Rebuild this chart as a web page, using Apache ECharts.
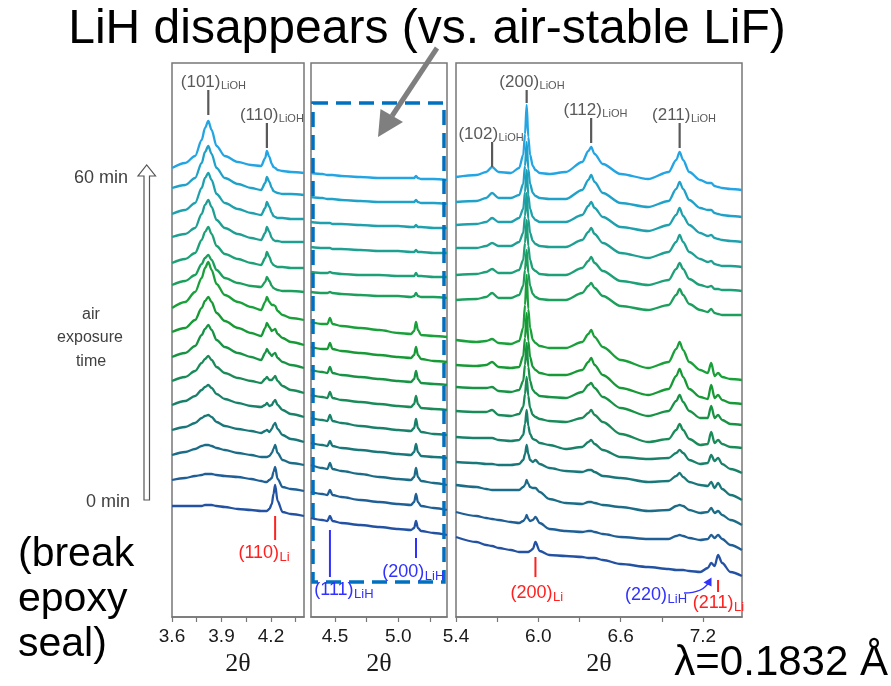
<!DOCTYPE html>
<html><head><meta charset="utf-8">
<script src="https://cdn.jsdelivr.net/npm/echarts@6/dist/echarts.min.js"></script>
<style>html,body{margin:0;padding:0;background:#fff}#c{width:891px;height:686px}</style>
</head><body><div id="c"></div>
<script>
// ---------- DATA (intensity, a.u.; curves c0 = 0 min ... c14 = 60 min) ----------
const x1 = [3.60,3.68,3.74,3.78,3.80,3.82,3.84,3.87,3.92,4.00,4.08,4.14,4.165,4.175,4.19,4.205,4.215,4.225,4.24,4.27,4.32,4.40];
const panel1 = [
 [91,91,91,91,92,92,92,91,90,88,87,86,86,86,88,93,103,112,96,85,83,81],
 [117,119,121,122,123,123,123,122,121,120,118,116,115,115,117,119,125,130,118,110,108,106],
 [142,145,148,151,152,152,151,149,147,144,142,140,140,140,141,144,148,152,144,137,134,132],
 [167,170,174,179,181,182,180,175,171,168,166,164,166,167,165,168,172,174,168,162,158,155],
 [192,196,201,207,210,212,209,203,198,194,191,190,192,194,191,192,195,197,192,187,183,180],
 [216,220,226,234,238,241,237,230,224,219,216,214,218,220,217,217,219,221,216,211,207,204],
 [240,244,251,262,268,272,267,257,250,244,240,237,244,248,244,241,243,244,239,235,232,229],
 [265,269,277,289,296,300,295,284,276,269,264,261,269,274,270,266,267,268,263,259,255,252],
 [289,295,305,319,329,335,327,313,302,295,290,287,295,300,295,292,292,291,286,282,279,277],
 [312,316,322,333,339,342,337,327,319,314,311,310,315,320,316,311,309,308,307,306,306,305],
 [334,338,344,357,365,370,363,351,343,338,334,332,339,345,340,334,332,331,330,330,329,329],
 [360,363,369,383,392,397,390,377,369,363,359,357,364,370,365,359,357,356,356,355,355,355],
 [383,387,394,409,419,424,417,403,394,388,384,382,389,395,390,384,381,380,379,379,378,378],
 [409,412,419,434,445,451,443,429,419,413,409,407,414,420,415,409,406,405,404,403,403,402],
 [429,434,441,457,469,476,467,451,441,435,432,431,439,446,440,433,430,429,427,426,425,424]
];
const x2 = [4.31,4.40,4.44,4.46,4.48,4.55,4.70,4.85,5.00,5.10,5.125,5.14,5.155,5.18,5.28,5.384];
const panel2 = [
 [79,77,76,81,76,74,72,70,68,67,69,76,69,66,64,62],
 [105,103,102,107,102,100,97,95,93,92,95,103,95,91,89,87],
 [132,129,128,134,128,126,123,120,118,117,120,129,120,116,114,112],
 [154,152,151,156,151,149,147,145,143,142,145,153,145,141,140,139],
 [179,177,176,182,176,174,171,169,167,166,169,178,169,165,163,162],
 [202,200,199,205,199,197,195,193,191,190,193,201,193,189,188,187],
 [227,225,224,230,224,222,220,218,216,215,218,226,218,214,213,212],
 [250,248,248,254,248,246,244,242,240,239,242,250,242,238,236,235],
 [275,273,273,279,273,271,269,267,264,263,266,275,267,262,261,260],
 [305,304,304,305,304,303,302,301,301,300,301,304,301,300,300,299],
 [325,324,324,325,324,323,322,322,321,321,321,324,321,321,320,320],
 [350,349,349,349,348,348,347,346,346,345,345,347,345,345,344,344],
 [375,374,374,374,373,373,372,371,371,370,370,372,370,370,369,369],
 [400,399,398,398,398,397,396,395,395,395,395,397,395,394,394,393],
 [424,423,422,422,422,421,420,419,419,419,419,421,419,418,418,417]
];
const x3 = [5.40,5.55,5.62,5.663,5.71,5.80,5.86,5.89,5.903,5.915,5.927,5.94,5.96,5.979,6.01,6.08,6.20,6.32,6.365,6.385,6.41,6.47,6.60,6.80,6.95,7.005,7.03,7.055,7.10,7.18,7.235,7.26,7.285,7.31,7.34,7.40,7.484];
const panel3 = [
 [60,55,52,51,49,47,45,45,45,45,45,46,48,55,46,42,41,40,39,39,39,37,33,30,28,27,27,27,26,25,29,34,31,42,34,25,21],
 [85,81,79,78,77,75,74,76,78,82,78,76,77,80,74,68,66,65,66,66,65,63,60,58,58,61,62,61,59,57,58,62,59,62,58,52,47],
 [112,110,108,107,107,107,107,110,112,117,113,110,109,109,105,98,94,93,95,95,94,92,90,86,87,91,92,91,87,84,85,89,84,86,82,77,72],
 [135,134,133,133,132,132,133,137,143,152,143,137,135,137,133,129,126,125,127,127,125,121,119,115,116,121,124,120,115,112,111,115,109,114,108,102,97],
 [160,159,159,159,157,156,157,162,173,187,171,163,158,157,154,152,148,150,155,157,153,147,140,138,139,144,147,144,137,133,134,142,136,139,133,128,124],
 [186,185,185,187,182,181,183,190,203,220,201,189,182,180,178,176,175,179,184,187,182,175,163,155,158,167,173,167,158,152,153,165,154,157,153,150,149],
 [210,209,209,210,206,205,207,216,232,254,230,216,207,204,201,200,199,205,212,214,209,200,189,181,186,196,202,195,186,179,179,191,179,182,177,173,172],
 [232,231,232,235,230,229,230,241,259,284,256,240,230,227,224,222,222,227,235,239,232,222,209,202,208,221,228,220,208,200,198,212,199,202,197,194,193],
 [257,255,256,258,254,253,256,269,292,322,288,269,257,254,251,249,249,255,263,267,260,250,237,229,235,248,255,247,235,227,224,234,221,224,220,218,217],
 [297,298,300,304,299,299,302,311,327,347,324,311,303,300,298,297,297,304,311,314,309,301,291,287,292,302,308,302,293,287,285,288,284,283,282,282,282],
 [322,323,325,328,324,324,327,337,354,377,351,337,328,326,323,322,322,329,336,340,334,326,316,312,317,328,334,328,318,312,310,311,308,308,307,307,306],
 [349,349,351,354,351,351,355,364,381,404,378,364,356,353,351,350,350,357,365,369,363,354,344,339,345,355,362,355,345,338,335,336,333,332,331,331,330],
 [372,373,375,379,375,375,379,388,405,427,402,388,380,377,375,375,375,382,391,395,389,380,370,366,372,382,389,381,372,364,361,362,359,358,357,356,355],
 [395,396,399,404,399,399,402,413,431,455,428,413,404,401,399,398,398,407,417,422,415,404,394,390,396,408,415,408,397,389,387,387,384,383,382,381,380],
 [420,422,425,430,425,424,429,442,463,492,460,442,431,427,424,423,425,435,446,450,443,433,423,418,425,437,445,437,425,417,414,414,411,410,409,408,407]
];
const xRanges = [[3.6,4.4],[4.3104,5.3847],[5.4,7.4845]];
const tickValues = [[3.6,3.75,3.9,4.05,4.2,4.35],[4.5,4.75,5.0,5.25],[5.4,5.7,6.0,6.3,6.6,6.9,7.2]];
const labelValues = [[3.6,3.9,4.2],[4.5,5.0],[5.4,6.0,6.6,7.2]];
// peak annotations: panel, 2theta, top, bottom (intensity), main, sub
const lioLabels = [[0,3.82,507,482,'(101)','LiOH'],[0,4.175,474,449,'(110)','LiOH'],[2,5.663,455,430,'(102)','LiOH'],[2,5.915,507,494,'(200)','LiOH'],[2,6.385,479,454,'(112)','LiOH'],[2,7.03,474,449,'(211)','LiOH']];
const liLabels = [[0,4.225,81,57,'(110)','Li'],[2,5.979,40,20,'(200)','Li'],[2,7.31,17,5,'(211)','Li']];
const lihLabels = [[1,4.46,67,20,'(111)','LiH'],[1,5.14,59,39,'(200)','LiH']];

// ---------- STYLE ----------
const colors = ['#2352a3','#1f5f96','#1c6c88','#1a7779','#19816a','#198a58','#189346','#179a36','#19a03a','#1c9f5c','#1d9f78','#1e9f92','#1fa0ad','#20a1c8','#23a4e3'];
const FONT = '"Liberation Sans", Arial, sans-serif';
const grids = [{left:172,width:132},{left:311,width:136},{left:456,width:286}];

const chart = echarts.init(document.getElementById('c'), null, {renderer:'canvas', width:891, height:686});
const series = [];
[[x1,panel1],[x2,panel2],[x3,panel3]].forEach(([xs,curves],p)=>{
  curves.forEach((vals,i)=>{
    series.push({type:'line', xAxisIndex:p, yAxisIndex:p, data: xs.map((x,k)=>[x,vals[k]]),
      showSymbol:false, symbol:'none', smooth:0.3, smoothMonotone:'x', silent:true,
      lineStyle:{color:colors[i], width:2.3}});
  });
});
chart.setOption({
  animation:false, backgroundColor:'#fff',
  grid: grids.map(g=>({left:g.left,width:g.width,top:63,height:554,show:true,borderColor:'#777',borderWidth:1.5})),
  xAxis: [0,1,2].map(i=>({type:'value', gridIndex:i, min:xRanges[i][0], max:xRanges[i][1],
    name:'2θ', nameLocation:'middle', nameGap:33,
    nameTextStyle:{fontSize:26, fontFamily:'"Liberation Serif", "DejaVu Serif", serif', color:'#1a1a1a'},
    axisLine:{show:true, onZero:false, lineStyle:{color:'#777', width:1.5}},
    axisTick:{show:true, customValues:tickValues[i], length:5, lineStyle:{color:'#777', width:1.2}},
    axisLabel:{customValues:labelValues[i], formatter:v=>v.toFixed(1), fontSize:19, color:'#1a1a1a', fontFamily:FONT, margin:10},
    splitLine:{show:false}})),
  yAxis: [0,1,2].map(i=>({type:'value', gridIndex:i, min:-20, max:534, show:false})),
  series
});

// ---------- ANNOTATIONS ----------
const ctx = document.createElement('canvas').getContext('2d');
function tw(s,size){ ctx.font = size+'px "Liberation Sans"'; return ctx.measureText(s).width; }
const G = [];
function txt(s,x,y,size,fill,align,extra){ G.push(Object.assign({type:'text', z:100, style:{text:s,x,y,fill,fontSize:size,fontFamily:FONT,align:align||'left',verticalAlign:'middle'}},extra||{})); }
function label(main,sub,left,cy,ms,ss,fill){ txt(main,left,cy,ms,fill); txt(sub,left+tw(main,ms)+0.5,cy+4,ss,fill); }
function vline(x,y1,y2,stroke,w){ G.push({type:'line',z:100,shape:{x1:x,y1:y1,x2:x,y2:y2},style:{stroke,lineWidth:w}}); }
function P(p,x,y){ return chart.convertToPixel({gridIndex:p},[x,y]); }

const lioDx = [-27.5,-27,-33.7,-27.3,-27.7,-27.6];
lioLabels.forEach((a,k)=>{ const t=P(a[0],a[1],a[2]), b=P(a[0],a[1],a[3]);
  vline(t[0],t[1],b[1],'#595959',2.2); label(a[4],a[5],t[0]+lioDx[k],t[1]-8,17,11,'#595959'); });
const liOff = [[-36.7,13],[-25,16],[-25.3,11]];
liLabels.forEach((a,k)=>{ const t=P(a[0],a[1],a[2]), b=P(a[0],a[1],a[3]);
  vline(t[0],t[1],b[1],'#ff2020',2); label(a[4],a[5],t[0]+liOff[k][0],b[1]+liOff[k][1],18,13,'#ff2020'); });
const lihOff = [[-15.7,13],[-33.7,14]];
lihLabels.forEach((a,k)=>{ const t=P(a[0],a[1],a[2]), b=P(a[0],a[1],a[3]);
  vline(t[0],t[1],b[1],'#3030ff',2); label(a[4],a[5],t[0]+lihOff[k][0],b[1]+lihOff[k][1],18,13,'#3030ff'); });
// (220)LiH with curved arrow
label('(220)','LiH',625,595,18,13,'#3030ff');
G.push({type:'bezierCurve',z:100,shape:{x1:684,y1:593,cpx1:703,cpy1:593,x2:709,y2:582},style:{stroke:'#3030ff',lineWidth:1.5,fill:null}});
G.push({type:'polygon',z:100,shape:{points:[[711.5,577.5],[711.5,586.5],[703.5,582.5]]},style:{fill:'#3030ff'}});

// dashed box in middle panel
G.push({type:'rect',z:90,shape:{x:313,y:103,width:131,height:479},style:{fill:null,stroke:'#0070c0',lineWidth:3.5,lineDash:[15,8]}});
// title + arrow
txt('LiH disappears (vs. air-stable LiF)',427,30,48,'#000','center');
G.push({type:'line',z:100,shape:{x1:437,y1:48,x2:392,y2:116},style:{stroke:'#7f7f7f',lineWidth:5}});
G.push({type:'polygon',z:100,shape:{points:[[378,137],[380.5,109],[403,122]]},style:{fill:'#7f7f7f'}});
// left side
txt('60 min',128,178,18,'#404040','right');
txt('0 min',130,502,18,'#404040','right');
txt('air',91,315,16,'#404040','center');
txt('exposure',90,338,16,'#404040','center');
txt('time',91,362,16,'#404040','center');
G.push({type:'polygon',z:100,shape:{points:[[144,500],[149.5,500],[149.5,176],[155.5,176],[146.7,165],[138,176],[144,176]]},style:{fill:'#fff',stroke:'#555',lineWidth:1.2}});
txt('(break',18,555,41,'#000','left');
txt('epoxy',18,600,41,'#000','left');
txt('seal)',18,645,41,'#000','left');
txt('λ=0.1832 Å',888,663,42,'#000','right');

chart.setOption({graphic: G});
</script>
</body></html>
